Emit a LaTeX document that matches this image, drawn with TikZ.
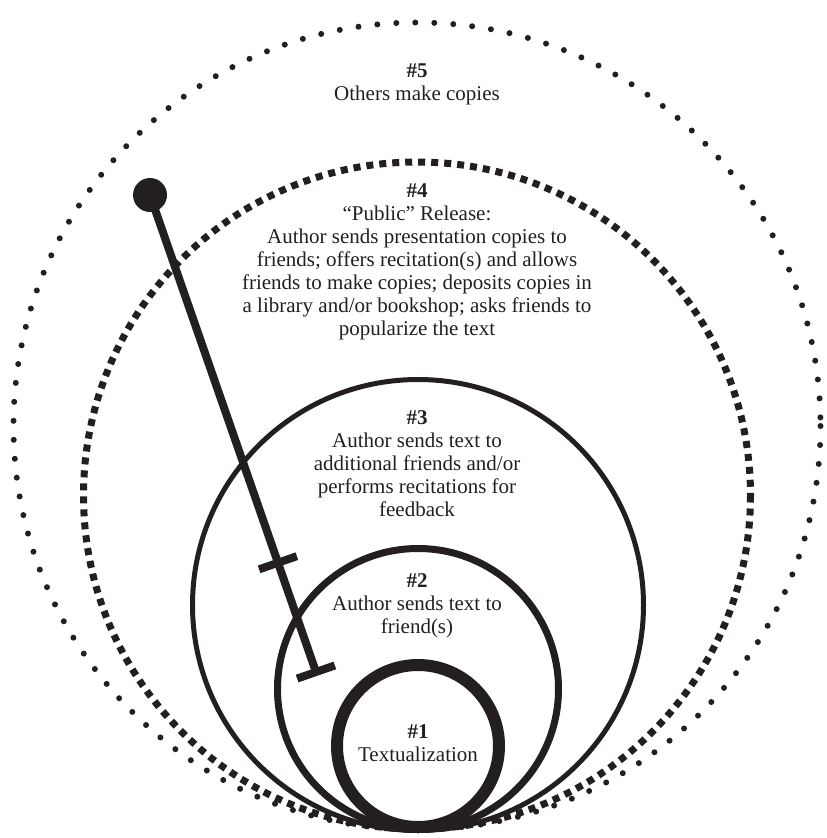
\documentclass[tikz,border=0pt]{standalone}
\usepackage{fontspec}
\setmainfont{Liberation Serif}
\usetikzlibrary{calc}

\definecolor{ink}{HTML}{231F20}
\tikzset{
  stage/.style={align=center, inner sep=0pt, text=ink, font=\fontsize{21}{23}\selectfont},
  dotring/.style={line width=6pt, line cap=round, dash pattern=on 0pt off 19pt},
  squarering/.style={line width=7pt, dash pattern=on 7pt off 6pt},
  pinline/.style={line width=8pt},
}

\begin{document}
\begin{tikzpicture}[x=1pt,y=-1pt,color=ink]
  \useasboundingbox (0,0) rectangle (827,838);

  % --- outer rings (#5 round dots, #4 squares) ---
  \draw[dotring] (417,426) circle (403.5);
  \draw[squarering] (417,495.5) circle (333.5);

  % --- solid rings (#3, #2, #1) ---
  \foreach \cy/\r/\w in {605/225.5/5, 689/140.5/7, 746/81/12} {
    \draw[line width=\w pt] (418,\cy) circle (\r);
  }

  % --- pin ---
  \coordinate (head) at (150,195);
  \coordinate (tip) at (316,672);
  \coordinate (cross) at ($(head)!0.771!(tip)$);
  \draw[pinline] (head) -- (tip);
  \fill (head) circle (17);
  \draw[pinline] ($(cross)!20pt!90:(tip)$) -- ($(cross)!20pt!-90:(tip)$);
  \draw[pinline] ($(tip)!20pt!90:(head)$) -- ($(tip)!20pt!-90:(head)$);

  % --- stage labels ---
  \node[stage] (s5) at (417,84) {\textbf{\#5}\\Others make copies};
  \node[stage] (s4) at (417,262) {\textbf{\#4}\\``Public'' Release:\\Author sends presentation copies to\\friends; offers recitation(s) and allows\\friends to make copies; deposits copies in\\a library and/or bookshop; asks friends to\\popularize the text};
  \node[stage] (s3) at (417,464) {\textbf{\#3}\\Author sends text to\\additional friends and/or\\performs recitations for\\feedback};
  \node[stage] (s2) at (417,606) {\textbf{\#2}\\Author sends text to\\friend(s)};
  \node[stage] (s1) at (418,743) {\textbf{\#1}\\Textualization};
\end{tikzpicture}
\end{document}
